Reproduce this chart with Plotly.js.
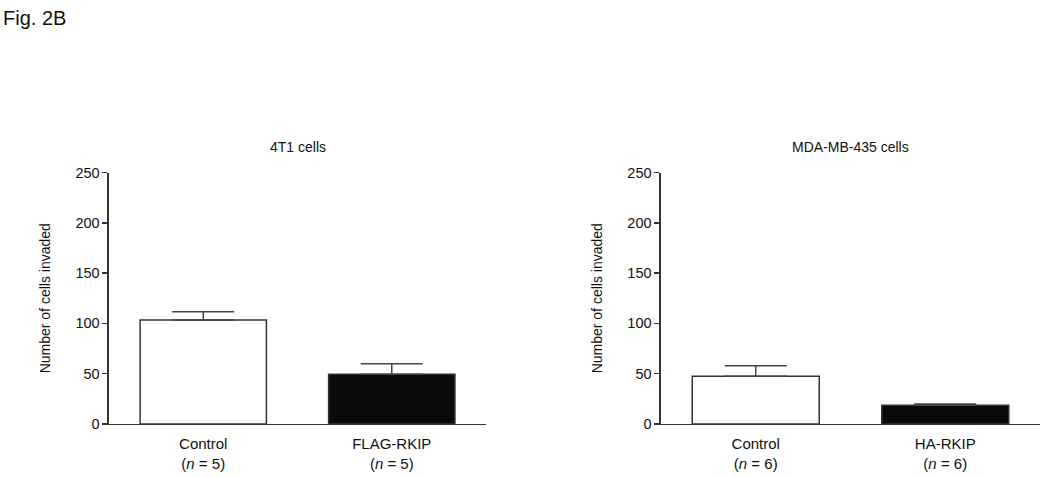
<!DOCTYPE html>
<html>
<head>
<meta charset="utf-8">
<script src="https://cdn.plot.ly/plotly-3.0.1.min.js"></script>
<style>
  html, body { margin: 0; padding: 0; background: #fff; }
  #chart { width: 1050px; height: 478px; }
</style>
</head>
<body>
<div id="chart"></div>
<script>
// values (mean + SEM)
var cats4T1 = ["Control", "FLAG-RKIP"];
var vals4T1 = [103.5, 49.5];
var sem4T1 = [8, 10.5];
var n4T1 = [5, 5];

var catsMDA = ["Control", "HA-RKIP"];
var valsMDA = [47.5, 18.7];
var semMDA = [10.5, 1.2];
var nMDA = [6, 6];

var barColors = ["#ffffff", "#0a0a0a"];
var yTicks = [0, 50, 100, 150, 200, 250];

var fontFam = "Liberation Sans, Arial, sans-serif";
var ink = "#333";

function makeBar(cats, vals, sem, xa, ya) {
    return {
        type: "bar",
        x: cats,
        y: vals,
        xaxis: xa,
        yaxis: ya,
        width: 0.67,
        marker: {color: barColors, line: {color: ink, width: 1.5}},
        error_y: {
            type: "data",
            symmetric: false,
            array: sem,
            arrayminus: sem.map(function() { return 0; }),
            color: "#444",
            thickness: 1.5,
            width: 31
        },
        showlegend: false,
        hoverinfo: "skip"
    };
}

function tickLabels(cats, ns) {
    return cats.map(function(c, i) {
        return c + "<br>(<i>n</i> = " + ns[i] + ")";
    });
}

function xAxis(cats, ns, domain, anchor) {
    return {
        domain: domain,
        anchor: anchor,
        type: "category",
        range: [-0.5, 1.5],
        tickvals: cats,
        ticktext: tickLabels(cats, ns),
        ticks: "",
        ticklabelstandoff: 6,
        showline: true,
        linecolor: ink,
        linewidth: 1.5,
        showgrid: false,
        zeroline: false,
        tickfont: {family: fontFam, size: 15, color: "#111"}
    };
}

function yAxis(anchor) {
    return {
        domain: [0.113, 0.639],
        anchor: anchor,
        range: [0, 250],
        tickvals: yTicks,
        ticks: "outside",
        ticklen: 5,
        tickwidth: 1.5,
        tickcolor: ink,
        showline: true,
        linecolor: ink,
        linewidth: 1.5,
        showgrid: false,
        zeroline: false,
        tickfont: {family: fontFam, size: 14.5, color: "#111"},
        title: {text: "Number of cells invaded", standoff: 21,
                font: {family: fontFam, size: 14, color: "#111"}}
    };
}

var data = [
    makeBar(cats4T1, vals4T1, sem4T1, "x", "y"),
    makeBar(catsMDA, valsMDA, semMDA, "x2", "y2")
];

var layout = {
    width: 1050,
    height: 478,
    margin: {l: 0, r: 0, t: 0, b: 0},
    paper_bgcolor: "#fff",
    plot_bgcolor: "#fff",
    font: {family: fontFam, color: "#111"},
    xaxis: xAxis(cats4T1, n4T1, [0.1038, 0.4629], "y"),
    yaxis: yAxis("x"),
    xaxis2: xAxis(catsMDA, nMDA, [0.6295, 0.9905], "y2"),
    yaxis2: yAxis("x2"),
    annotations: [
        {text: "Fig. 2B", xref: "paper", yref: "paper", x: 0.001, y: 1 - 18 / 478,
         xanchor: "left", yanchor: "middle", showarrow: false,
         font: {family: fontFam, size: 20, color: "#111"}},
        {text: "4T1 cells", xref: "paper", yref: "paper", x: (0.1038 + 0.4629) / 2, y: 1 - 147 / 478,
         xanchor: "center", yanchor: "middle", showarrow: false,
         font: {family: fontFam, size: 14, color: "#111"}},
        {text: "MDA-MB-435 cells", xref: "paper", yref: "paper", x: (0.6295 + 0.9905) / 2, y: 1 - 147 / 478,
         xanchor: "center", yanchor: "middle", showarrow: false,
         font: {family: fontFam, size: 14, color: "#111"}}
    ]
};

Plotly.newPlot("chart", data, layout, {staticPlot: true});
</script>
</body>
</html>
